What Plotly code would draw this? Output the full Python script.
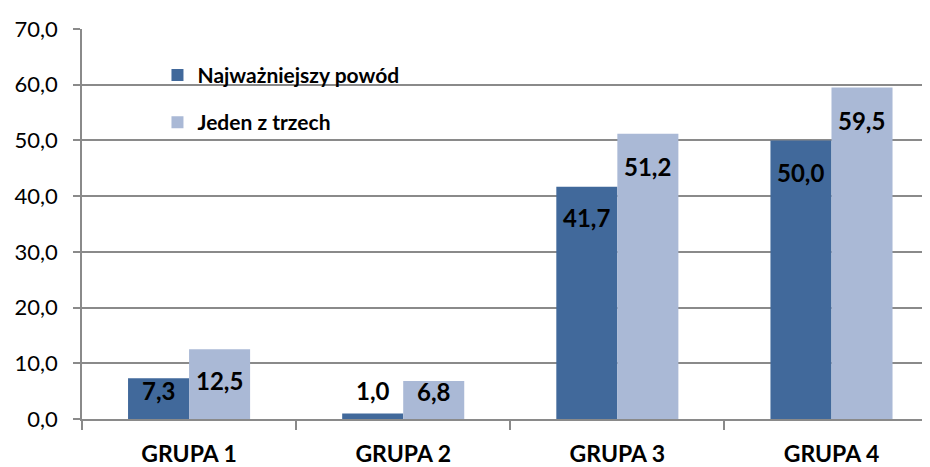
import plotly.graph_objects as go

categories = ["GRUPA 1", "GRUPA 2", "GRUPA 3", "GRUPA 4"]
series_names = ["Najważniejszy powód", "Jeden z trzech"]
najwazniejszy = [7.3, 1.0, 41.7, 50.0]
jeden_z_trzech = [12.5, 6.8, 51.2, 59.5]
y_ticks = [0, 10, 20, 30, 40, 50, 60, 70]

# label placement (pixel offset of label centre below the bar top), style only
label_drop_dark = [12, -23, 31, 32]
label_drop_light = [31, 10, 33, 33]

FONT = "Lato"
dark = "#41699B"
light = "#AAB9D6"
grid = "#8a8a8a"

def fmt(v):
    return f"{v:.1f}".replace(".", ",")

lab = dict(family=FONT, size=24, color="black", weight="bold")

fig = go.Figure()
for name, vals, col in [(series_names[0], najwazniejszy, dark),
                        (series_names[1], jeden_z_trzech, light)]:
    fig.add_trace(go.Bar(
        x=categories, y=vals, name=name,
        marker=dict(color=col, line=dict(width=0)),
        legendgroup=name,
    ))

annotations = []
for vals, drops, xs in [(najwazniejszy, label_drop_dark, -30.5),
                        (jeden_z_trzech, label_drop_light, 30.5)]:
    for c, v, d in zip(categories, vals, drops):
        annotations.append(dict(x=c, y=v, xref="x", yref="y", text=fmt(v),
                                showarrow=False, xanchor="center", yanchor="middle",
                                xshift=xs, yshift=-d, font=lab))

fig.update_layout(
    width=922, height=459,
    margin=dict(l=74, r=0, t=21, b=46),
    paper_bgcolor="white", plot_bgcolor="white",
    barmode="group", bargap=0.43, bargroupgap=0,
    separators=", ",
    annotations=annotations,
    showlegend=True,
    legend=dict(x=0.089, y=0.934, xanchor="left", yanchor="top",
                bgcolor="rgba(0,0,0,0)", tracegroupgap=17,
                font=dict(family=FONT, size=21, color="black", weight="bold"),
                itemwidth=30),
    xaxis=dict(range=[-0.5, 3.46], showline=True, linecolor=grid, linewidth=1.5,
               ticks="outside", tickson="boundaries", ticklen=9, tickcolor=grid,
               tickwidth=1.5, ticklabelstandoff=14,
               tickfont=dict(family=FONT, size=23, color="black", weight="bold"),
               showgrid=False, zeroline=False),
    yaxis=dict(range=[0, 70], tickvals=y_ticks, tickformat=".1f",
               showline=True, linecolor=grid, linewidth=1.5,
               ticks="outside", ticklen=7, tickcolor=grid, tickwidth=1.5,
               ticklabelstandoff=11,
               showgrid=True, gridcolor=grid, gridwidth=1.5,
               tickfont=dict(family=FONT, size=22, color="black"),
               zeroline=False),
)

fig.write_html("out.html")
